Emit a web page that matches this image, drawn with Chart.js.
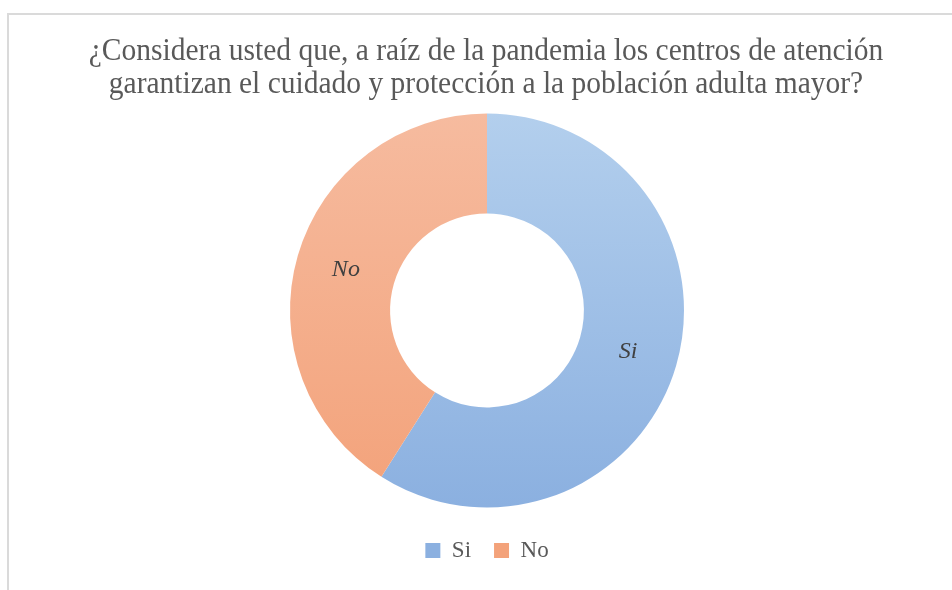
<!DOCTYPE html>
<html>
<head>
<meta charset="utf-8">
<script src="https://cdn.jsdelivr.net/npm/chart.js@4.4.1/dist/chart.umd.min.js"></script>
<style>
  html, body { margin: 0; padding: 0; background: #fff; }
  #wrap { position: relative; width: 952px; height: 590px; overflow: hidden; }
  #frame {
    position: absolute; left: 7px; top: 13px; width: 1000px; height: 700px;
    border-left: 2px solid #dadada; border-top: 2px solid #dadada;
  }
  #chartBox { position: absolute; left: 0; top: 0; width: 952px; height: 590px; }
</style>
</head>
<body>
<div id="wrap">
  <div id="frame"></div>
  <div id="chartBox"><canvas id="donut"></canvas></div>
</div>
<script>
// Respuestas de la encuesta
const categories = ["Si", "No"];
const shares = [59, 41];
const titleLines = [
    "¿Considera usted que, a raíz de la pandemia los centros de atención",
    "garantizan el cuidado y protección a la población adulta mayor?"
];

// gradient colours per slice (top, bottom)
const sliceColors = [["#b3cfed", "#8bb0e0"], ["#f6bb9f", "#f3a27a"]];

function sliceFill(context) {
    const chart = context.chart;
    const pair = sliceColors[context.dataIndex];
    if (!chart.chartArea) return pair[1];
    const g = chart.ctx.createLinearGradient(0, 113, 0, 507);
    g.addColorStop(0, pair[0]);
    g.addColorStop(1, pair[1]);
    return g;
}

// labels inside the ring
const sliceLabels = {
    id: "sliceLabels",
    afterDatasetsDraw(chart) {
        const ctx = chart.ctx;
        const meta = chart.getDatasetMeta(0);
        ctx.save();
        ctx.font = "italic 24px 'Liberation Serif'";
        ctx.fillStyle = "#404040";
        ctx.textAlign = "center";
        ctx.textBaseline = "middle";
        meta.data.forEach((arc, i) => {
            const p = arc.tooltipPosition();
            ctx.fillText(chart.data.labels[i], p.x, p.y);
        });
        ctx.restore();
    }
};

// title drawn a bit taller than the normal font (narrow look of the original)
const tallTitle = {
    id: "tallTitle",
    afterDraw(chart) {
        const ctx = chart.ctx;
        const cx = (chart.chartArea.left + chart.chartArea.right) / 2 - 1;
        const baselines = [60, 93];
        ctx.save();
        ctx.font = "29.5px 'Liberation Serif'";
        ctx.fillStyle = "#595959";
        ctx.textAlign = "center";
        ctx.textBaseline = "alphabetic";
        titleLines.forEach((line, i) => {
            ctx.save();
            ctx.translate(cx, baselines[i]);
            ctx.scale(1, 1.08);
            ctx.fillText(line, 0, 0);
            ctx.restore();
        });
        ctx.restore();
    }
};

Chart.defaults.font.family = "'Liberation Serif', serif";
Chart.defaults.color = "#595959";

const chart = new Chart(document.getElementById("donut"), {
    type: "doughnut",
    data: {
        labels: categories,
        datasets: [{
            data: shares,
            backgroundColor: sliceFill,
            borderWidth: 0,
            radius: 197
        }]
    },
    options: {
        responsive: true,
        maintainAspectRatio: false,
        animation: false,
        cutout: "49.2%",
        layout: { padding: { top: 105, left: 22, right: 0, bottom: 18 } },
        plugins: {
            title: { display: false },
            legend: {
                position: "bottom",
                labels: {
                    boxWidth: 15,
                    boxHeight: 15,
                    padding: 23,
                    color: "#595959",
                    font: { size: 23 }
                }
            },
            tooltip: { enabled: false }
        }
    },
    plugins: [sliceLabels, tallTitle]
});
</script>
</body>
</html>
